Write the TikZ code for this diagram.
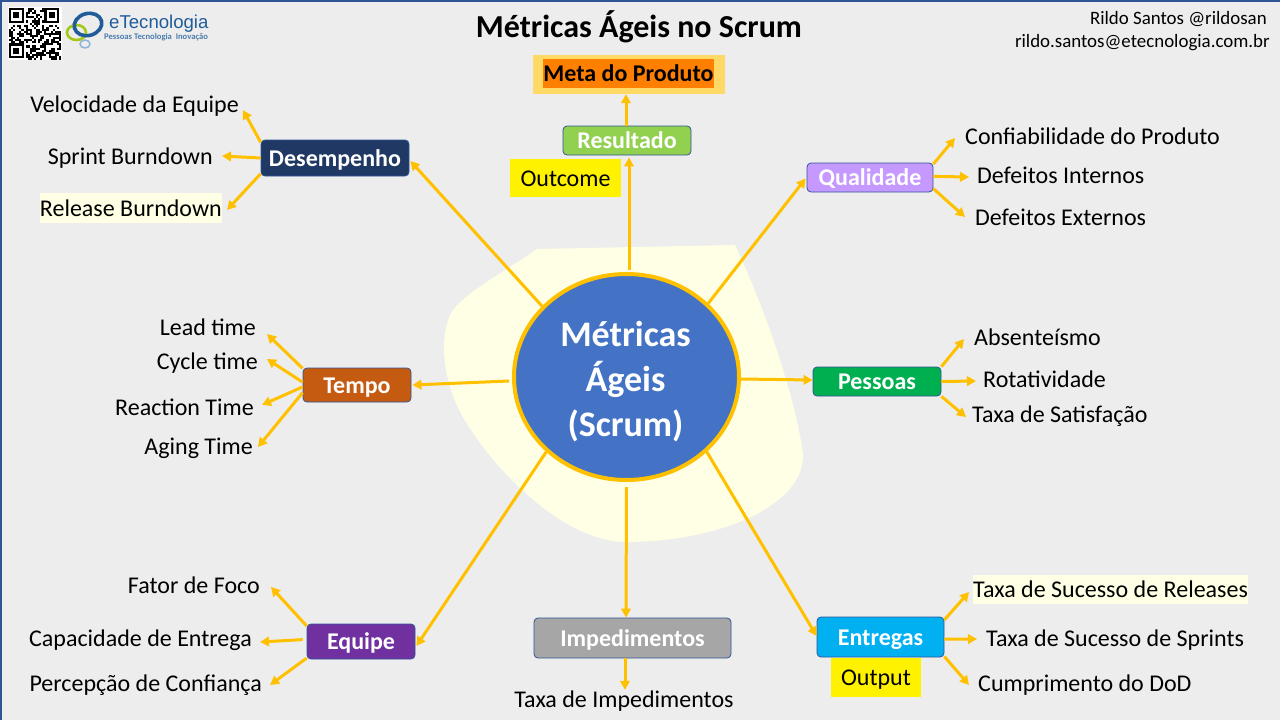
\documentclass[tikz,border=0pt]{standalone}
\usepackage{fontspec}
\setmainfont{Carlito}
\newfontfamily\logofont{Liberation Sans}
\usepackage{xcolor}
\usetikzlibrary{shapes.geometric, arrows.meta}
\definecolor{fundo}{RGB}{237, 237, 237}
\definecolor{borda}{RGB}{47, 85, 151}
\definecolor{creme}{RGB}{255, 255, 229}
\definecolor{ouro}{RGB}{255, 192, 0}
\definecolor{azulcentro}{RGB}{68, 114, 196}
\definecolor{marinho}{RGB}{31, 56, 100}
\definecolor{ferrugem}{RGB}{197, 90, 17}
\definecolor{roxo}{RGB}{112, 48, 160}
\definecolor{lilas}{RGB}{197, 153, 255}
\definecolor{verde}{RGB}{0, 176, 80}
\definecolor{ciano}{RGB}{0, 176, 240}
\definecolor{cinza}{RGB}{166, 166, 166}
\definecolor{lima}{RGB}{146, 208, 80}
\definecolor{laranja}{RGB}{255, 127, 0}
\definecolor{dourado}{RGB}{255, 217, 102}
\definecolor{logoazul}{RGB}{31, 92, 153}
\definecolor{logoverde}{RGB}{165, 198, 26}
\definecolor{logoclaro}{RGB}{143, 180, 220}
\tikzset{
    metrica/.style={rectangle, rounded corners=4pt, draw=borda, fill=#1, line width=0.8pt, text=white, text height=17pt, text depth=1pt, inner ysep=0pt, font=\fontsize{24}{28}\selectfont\bfseries},
    rotulo/.style={inner sep=0pt, text height=17pt, text depth=6pt, font=\fontsize{24}{28}\selectfont},
    realce/.style={rotulo, fill=#1, inner xsep=0pt},
    seta/.style={ouro, line width=3pt, -{Triangle[length=9pt,width=9.5pt]}}
}

\begin{document}
\begin{tikzpicture}[x=1pt, y=-1pt]
    \useasboundingbox (0,0) rectangle (1280,720);
    \fill[fundo] (0,0) rectangle (1280,720);
    \draw[borda, line width=3pt] (0,720) -- (0,0) -- (1280,0);

    % Mancha de fundo
    \fill[creme] (537,249) -- (735,245) .. controls (770,320) and (795,400) .. (803,453)
        .. controls (806,505) and (720,542) .. (625,542)
        .. controls (570,542) and (500,480) .. (463,417)
        .. controls (445,385) and (438,345) .. (450,315)
        .. controls (460,295) and (500,275) .. (537,249) -- cycle;

    % QR code
    \fill[white] (8,7) rectangle (62,60);
    \pgfmathsetseed{11}
    \foreach \lin in {0,...,24}
        \foreach \col in {0,...,24} {
            \pgfmathrandominteger{\modulo}{0}{1}
            \ifnum\modulo=1
                \fill[black] ({9+2.08*\col},{8+2.08*\lin}) rectangle ++(2.08,2.08);
            \fi
        }
    \foreach \px/\py in {9/8, 44.4/8, 9/43.4} {
        \fill[white] (\px,\py) rectangle ++(16.6,16.6);
        \fill[black] (\px,\py) rectangle ++(14.6,14.6);
        \fill[white] (\px+2.1,\py+2.1) rectangle ++(10.4,10.4);
        \fill[black] (\px+4.2,\py+4.2) rectangle ++(6.2,6.2);
    }

    % Logo
    \draw[logoclaro, line width=1.5pt] (85,44) ellipse (5 and 4);
    \draw[logoverde, line width=2.6pt] (76.5,32.5) ellipse (9.5 and 7.5);
    \draw[logoazul, line width=3.6pt, rotate around={15:(88,24.5)}] (88,24.5) ellipse (14 and 11);
    \node[anchor=base west, inner sep=0pt, logoazul, font=\fontsize{18.6}{22}\selectfont\logofont] (logotexto) at (109,28) {eTecnologia};
    \node[anchor=base west, inner sep=0pt, logoazul!80, font=\fontsize{8.6}{10}\selectfont\bfseries] (logolema) at (104,39.5) {Pessoas Tecnologia\ \ Inovação};

    % Titulo e contato
    \node[anchor=base, inner sep=0pt, font=\fontsize{32}{36}\selectfont\bfseries] (titulo) at (639,37) {Métricas Ágeis no Scrum};
    \node[anchor=base east, inner sep=0pt, font=\fontsize{18.9}{22}\selectfont] (autor) at (1267,24) {Rildo Santos @rildosan};
    \node[anchor=base east, inner sep=0pt, font=\fontsize{18.9}{22}\selectfont] (email) at (1270,47) {rildo.santos@etecnologia.com.br};

    % Centro
    \node[ellipse, inner sep=0pt, fill=azulcentro, minimum width=225pt, minimum height=206pt] (disco) at (625,377) {};
    \node[ellipse, inner sep=0pt, draw=ouro, line width=4pt, minimum width=225pt, minimum height=206pt] (anel) at (626.5,377) {};
    \node[inner sep=0pt, text=white, align=center, font=\fontsize{36}{45}\selectfont\bfseries] (metricas) at (625.5,382) {Métricas\\Ágeis\\(Scrum)};

    % Caixas
    \node[metrica=marinho, minimum width=148pt, minimum height=36pt] (desempenho) at (335,158) {Desempenho};
    \node[metrica=ferrugem, minimum width=108pt, minimum height=34pt] (tempo) at (357,385) {Tempo};
    \node[metrica=roxo, minimum width=108pt, minimum height=35pt] (equipe) at (361,641.5) {Equipe};
    \node[metrica=lilas, minimum width=126pt, minimum height=29pt] (qualidade) at (870,177.5) {Qualidade};
    \node[metrica=verde, minimum width=128pt, minimum height=29pt] (pessoas) at (877,381.5) {Pessoas};
    \node[metrica=ciano, minimum width=127pt, minimum height=40pt] (entregas) at (880.5,637) {Entregas};
    \node[metrica=cinza, minimum width=197pt, minimum height=40pt] (impedimentos) at (632.5,638) {Impedimentos};
    \node[metrica=lima, minimum width=128pt, minimum height=29pt] (resultado) at (627,140.5) {Resultado};

    % Meta do Produto
    \node[fill=dourado, minimum width=192pt, minimum height=39pt, inner sep=0pt] (metafundo) at (629,74.5) {};
    \node[fill=laranja, minimum width=171pt, minimum height=29pt, inner sep=0pt, text height=17pt, text depth=1pt, font=\fontsize{24}{28}\selectfont\bfseries] (meta) at (628.5,73.5) {Meta do Produto};

    % Etiquetas amarelas
    \node[fill=yellow, anchor=base, inner sep=0pt, minimum width=111pt, text height=27pt, text depth=11pt, font=\fontsize{24}{28}\selectfont] (outcome) at (565.5,186) {Outcome};
    \node[fill=yellow, anchor=base, inner sep=0pt, minimum width=90pt, text height=27pt, text depth=12pt, font=\fontsize{24}{28}\selectfont] (output) at (876,685) {Output};

    % Rotulos da esquerda
    \node[rotulo, anchor=base east] (velocidade) at (239,112) {Velocidade da Equipe};
    \node[rotulo, anchor=base east] (burndownsprint) at (213,164) {Sprint Burndown};
    \node[realce=creme, anchor=base east, text height=23pt, text depth=7pt] (burndownrelease) at (222,216) {Release Burndown};
    \node[rotulo, anchor=base east] (lead) at (256,335) {Lead time};
    \node[rotulo, anchor=base east] (cycle) at (258,369) {Cycle time};
    \node[rotulo, anchor=base east] (reaction) at (254,415) {Reaction Time};
    \node[rotulo, anchor=base east] (aging) at (253,454) {Aging Time};
    \node[rotulo, anchor=base east] (foco) at (260,593) {Fator de Foco};
    \node[rotulo, anchor=base east] (capacidade) at (252,646) {Capacidade de Entrega};
    \node[rotulo, anchor=base east] (confianca) at (262,691) {Percepção de Confiança};

    % Rotulos da direita
    \node[rotulo, anchor=base west] (confiabilidade) at (965,144) {Confiabilidade do Produto};
    \node[rotulo, anchor=base west] (internos) at (977,183) {Defeitos Internos};
    \node[rotulo, anchor=base west] (externos) at (975,225) {Defeitos Externos};
    \node[rotulo, anchor=base west] (absenteismo) at (974,345) {Absenteísmo};
    \node[rotulo, anchor=base west] (rotatividade) at (983,387) {Rotatividade};
    \node[rotulo, anchor=base west] (satisfacao) at (972,422) {Taxa de Satisfação};
    \node[realce=creme, anchor=base west, text height=22pt, text depth=7pt] (releases) at (973,597) {Taxa de Sucesso de Releases};
    \node[rotulo, anchor=base west] (sprints) at (986,646) {Taxa de Sucesso de Sprints};
    \node[rotulo, anchor=base west] (dod) at (978,691) {Cumprimento do DoD};
    \node[rotulo, anchor=base] (taxaimpedimentos) at (624,707) {Taxa de Impedimentos};

    % Setas do centro
    \draw[seta] (anel.140) -- ([xshift=1pt,yshift=-3pt]desempenho.east);
    \draw[seta] ([xshift=-3pt]anel.182) -- ([xshift=1pt]tempo.east);
    \draw[seta] (anel.42.6) -- ([xshift=-1pt,yshift=-1pt]qualidade.west);
    \draw[seta] (anel.-1.5) -- ([yshift=1.5pt]pessoas.west);
    \draw[seta] (anel.-43.4) -- ([yshift=1pt]entregas.west);
    \draw[seta] ([yshift=-5pt]anel.south) -- ([xshift=-6.5pt]impedimentos.north);
    \draw[seta] (anel.223) -- ([xshift=1pt,yshift=-4.5pt]equipe.east);
    \draw[seta] ([xshift=2.5pt,yshift=2pt]anel.north) -- ([xshift=2pt,yshift=-2pt]resultado.south);
    \draw[seta] ([xshift=-1pt]resultado.north) -- ([xshift=-3pt]metafundo.south);
    \draw[seta] ([xshift=-7.5pt]impedimentos.south) -- ([xshift=1pt]taxaimpedimentos.north);

    % Setas de Desempenho
    \draw[seta] (desempenho.168) -- ([xshift=4pt,yshift=-3.5pt]velocidade.east);
    \draw[seta] (desempenho.180) -- ([xshift=9pt,yshift=2.5pt]burndownsprint.east);
    \draw[seta] (desempenho.192) -- ([xshift=5pt,yshift=-2pt]burndownrelease.east);

    % Setas de Tempo
    \draw[seta] (tempo.163) -- ([xshift=11pt,yshift=-4.5pt]lead.east);
    \draw[seta] (tempo.177) -- ([xshift=9pt,yshift=4.5pt]cycle.east);
    \draw[seta] (tempo.182) -- ([xshift=8pt,yshift=4.5pt]reaction.east);
    \draw[seta] (tempo.188.5) -- ([xshift=5pt,yshift=1.5pt]aging.east);

    % Setas de Equipe
    \draw[seta] (equipe.164) -- ([xshift=11pt,yshift=0.5pt]foco.east);
    \draw[seta] ([xshift=-4pt]equipe.178) -- ([xshift=8pt,yshift=-1.5pt]capacidade.east);
    \draw[seta] (equipe.197.6) -- ([xshift=8pt,yshift=0.5pt]confianca.east);

    % Setas de Qualidade
    \draw[seta] (qualidade.12) -- ([xshift=-10pt,yshift=0.5pt]confiabilidade.west);
    \draw[seta] (qualidade.1) -- ([xshift=-8pt,yshift=0.5pt]internos.west);
    \draw[seta] (qualidade.-10.5) -- ([xshift=-10pt,yshift=2.5pt]externos.west);

    % Setas de Pessoas
    \draw[seta] (pessoas.13.6) -- ([xshift=-10pt,yshift=0.5pt]absenteismo.west);
    \draw[seta] (pessoas.0) -- ([xshift=-7pt,yshift=0.5pt]rotatividade.west);
    \draw[seta] (pessoas.-13) -- ([xshift=-6pt,yshift=-0.5pt]satisfacao.west);

    % Setas de Entregas
    \draw[seta] (entregas.15.5) -- ([xshift=-4pt,yshift=-2.5pt]releases.west);
    \draw[seta] (entregas.-2) -- ([xshift=-9pt,yshift=1.5pt]sprints.west);
    \draw[seta] (entregas.-17.7) -- ([xshift=-9pt,yshift=0.5pt]dod.west);
\end{tikzpicture}
\end{document}
